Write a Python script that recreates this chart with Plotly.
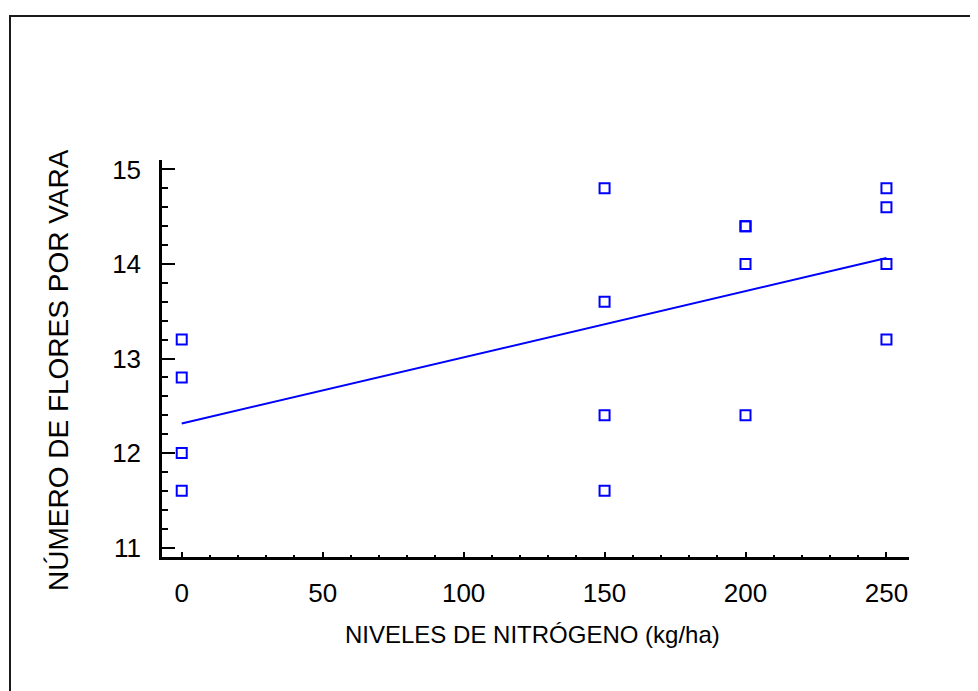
import numpy as np
import plotly.graph_objects as go

# Data
nitrogen = [0, 0, 0, 0, 150, 150, 150, 150, 200, 200, 200, 200, 250, 250, 250, 250]
flowers = [13.2, 12.8, 12.0, 11.6, 14.8, 13.6, 12.4, 11.6, 14.4, 14.4, 14.0, 12.4, 14.8, 14.6, 14.0, 13.2]
x_ticks = [0, 50, 100, 150, 200, 250]
y_ticks = [11, 12, 13, 14, 15]

# Fitted regression line from the data
slope, intercept = np.polyfit(nitrogen, flowers, 1)
fit_x = [0, 250]
fit_y = [intercept + slope * v for v in fit_x]

W, H = 978, 691
OFF = 8  # page offset of the figure in the screenshot
L, R, T, B = 162 - OFF, 77, 160 - OFF, 142
pw, ph = W - L - R, H - T - B

def px_to_paper_x(px):
    return (px - OFF - L) / pw

def px_to_paper_y(py):
    return (H - B - (py - OFF)) / ph

blue = "#0000FF"
font_family = "Liberation Sans, Arial, sans-serif"

fig = go.Figure()
fig.add_trace(go.Scatter(x=nitrogen, y=flowers, mode="markers",
                         marker=dict(symbol="square-open", size=10, color=blue,
                                     line=dict(width=2, color=blue)),
                         showlegend=False))
fig.add_trace(go.Scatter(x=fit_x, y=fit_y, mode="lines",
                         line=dict(color=blue, width=2), showlegend=False))

fig.update_layout(
    width=W, height=H,
    margin=dict(l=L, r=R, t=T, b=B),
    paper_bgcolor="white", plot_bgcolor="white",
    font=dict(family=font_family, color="black"),
    xaxis=dict(range=[-7, 258], tickvals=x_ticks, ticktext=[str(v) for v in x_ticks],
               ticks="inside", ticklen=5, tickwidth=2, tickcolor="black",
               showline=True, linecolor="black", linewidth=2.5,
               showgrid=False, zeroline=False,
               tickfont=dict(size=26, family=font_family, color="black"),
               ticklabelstandoff=11,
               minor=dict(dtick=10, tick0=0, ticks="inside", ticklen=2, tickwidth=2,
                          tickcolor="black", showgrid=False)),
    yaxis=dict(range=[10.9, 15.1], tickvals=y_ticks, ticktext=[str(v) for v in y_ticks],
               ticks="inside", ticklen=13, tickwidth=2, tickcolor="black",
               showline=True, linecolor="black", linewidth=2.5,
               showgrid=False, zeroline=False,
               tickfont=dict(size=26, family=font_family, color="black"),
               ticklabelstandoff=13,
               minor=dict(dtick=0.2, tick0=11, ticks="inside", ticklen=6, tickwidth=2,
                          tickcolor="black", showgrid=False)),
    annotations=[
        dict(text="NIVELES DE NITRÓGENO (kg/ha)", xref="paper", yref="paper",
             x=px_to_paper_x(532), y=px_to_paper_y(634), xanchor="center", yanchor="middle",
             showarrow=False, font=dict(size=24, family=font_family, color="black")),
        dict(text="NÚMERO DE FLORES POR VARA", xref="paper", yref="paper",
             x=px_to_paper_x(58), y=px_to_paper_y(370), xanchor="center", yanchor="middle",
             textangle=-90, showarrow=False,
             font=dict(size=28, family=font_family, color="black")),
    ],
    shapes=[
        dict(type="rect", xref="paper", yref="paper",
             x0=px_to_paper_x(10), x1=px_to_paper_x(1000),
             y0=px_to_paper_y(720), y1=px_to_paper_y(16),
             line=dict(color="#1a1a1a", width=2), fillcolor="rgba(0,0,0,0)", layer="below"),
    ],
)

fig.write_html("out.html")
